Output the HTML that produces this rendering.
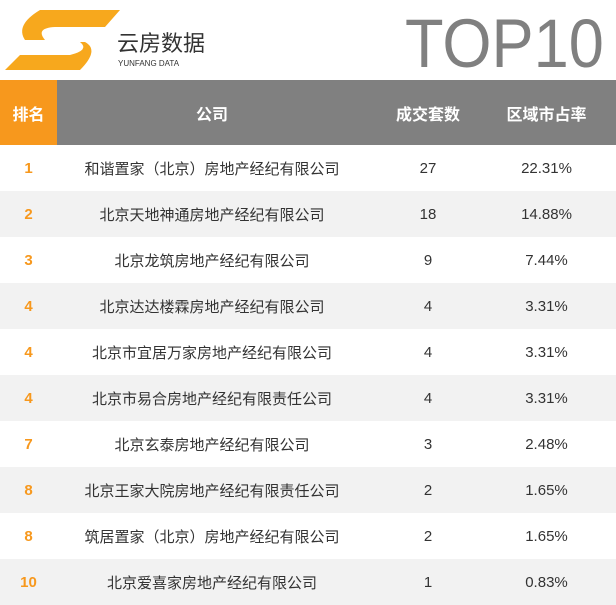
<!DOCTYPE html>
<html><head><meta charset="utf-8"><style>
body{margin:0;width:616px;height:605px;background:#fff;font-family:"Liberation Sans","Noto Sans CJK SC",sans-serif;overflow:hidden;position:relative}
.top{position:absolute;left:405px;top:9px;font-size:69px;color:#808080;line-height:69px;transform:scaleX(0.915);transform-origin:left top;white-space:nowrap}
.brand{position:absolute;left:117px;top:32px;font-size:22px;color:#333;line-height:24px}
.sub{position:absolute;left:118px;top:59px;font-size:8px;color:#333}
table{position:absolute;left:0;top:80px;width:616px;border-collapse:collapse}
th{height:65px;background:#808080;color:#fff;font-size:16px;font-weight:bold;padding:0}
th.r{background:#f7981d;width:57px}
td{height:46px;padding:0;text-align:center;font-size:15px;color:#333}
td.r{color:#f7981d;font-weight:bold}
tr.g td{background:#f2f2f2}
td:last-child,th:last-child{padding-right:12px}
</style></head><body>
<svg style="position:absolute;left:0;top:0" width="125" height="75">
<path d="M40 10 L120 10 L105 27 L55 27 Q35 28 45 40 L25 40 Q15 25 40 10Z" fill="#f7a81d"/>
<path d="M30 42 L85 42 Q100 50 80 70 L5 70 L20 55 L70 55 Q90 50 80 42Z" fill="#f7a81d"/>
</svg>
<div class="brand">云房数据</div>
<div class="sub">YUNFANG DATA</div>
<div class="top">TOP10</div>
<table>
<tr><th class="r">排名</th><th style="width:310px">公司</th><th style="width:122px">成交套数</th><th>区域市占率</th></tr>
<tr><td class="r">1</td><td>和谐置家（北京）房地产经纪有限公司</td><td>27</td><td>22.31%</td></tr>
<tr class="g"><td class="r">2</td><td>北京天地神通房地产经纪有限公司</td><td>18</td><td>14.88%</td></tr>
<tr><td class="r">3</td><td>北京龙筑房地产经纪有限公司</td><td>9</td><td>7.44%</td></tr>
<tr class="g"><td class="r">4</td><td>北京达达楼霖房地产经纪有限公司</td><td>4</td><td>3.31%</td></tr>
<tr><td class="r">4</td><td>北京市宜居万家房地产经纪有限公司</td><td>4</td><td>3.31%</td></tr>
<tr class="g"><td class="r">4</td><td>北京市易合房地产经纪有限责任公司</td><td>4</td><td>3.31%</td></tr>
<tr><td class="r">7</td><td>北京玄泰房地产经纪有限公司</td><td>3</td><td>2.48%</td></tr>
<tr class="g"><td class="r">8</td><td>北京王家大院房地产经纪有限责任公司</td><td>2</td><td>1.65%</td></tr>
<tr><td class="r">8</td><td>筑居置家（北京）房地产经纪有限公司</td><td>2</td><td>1.65%</td></tr>
<tr class="g"><td class="r">10</td><td>北京爱喜家房地产经纪有限公司</td><td>1</td><td>0.83%</td></tr>
</table>
</body></html>
